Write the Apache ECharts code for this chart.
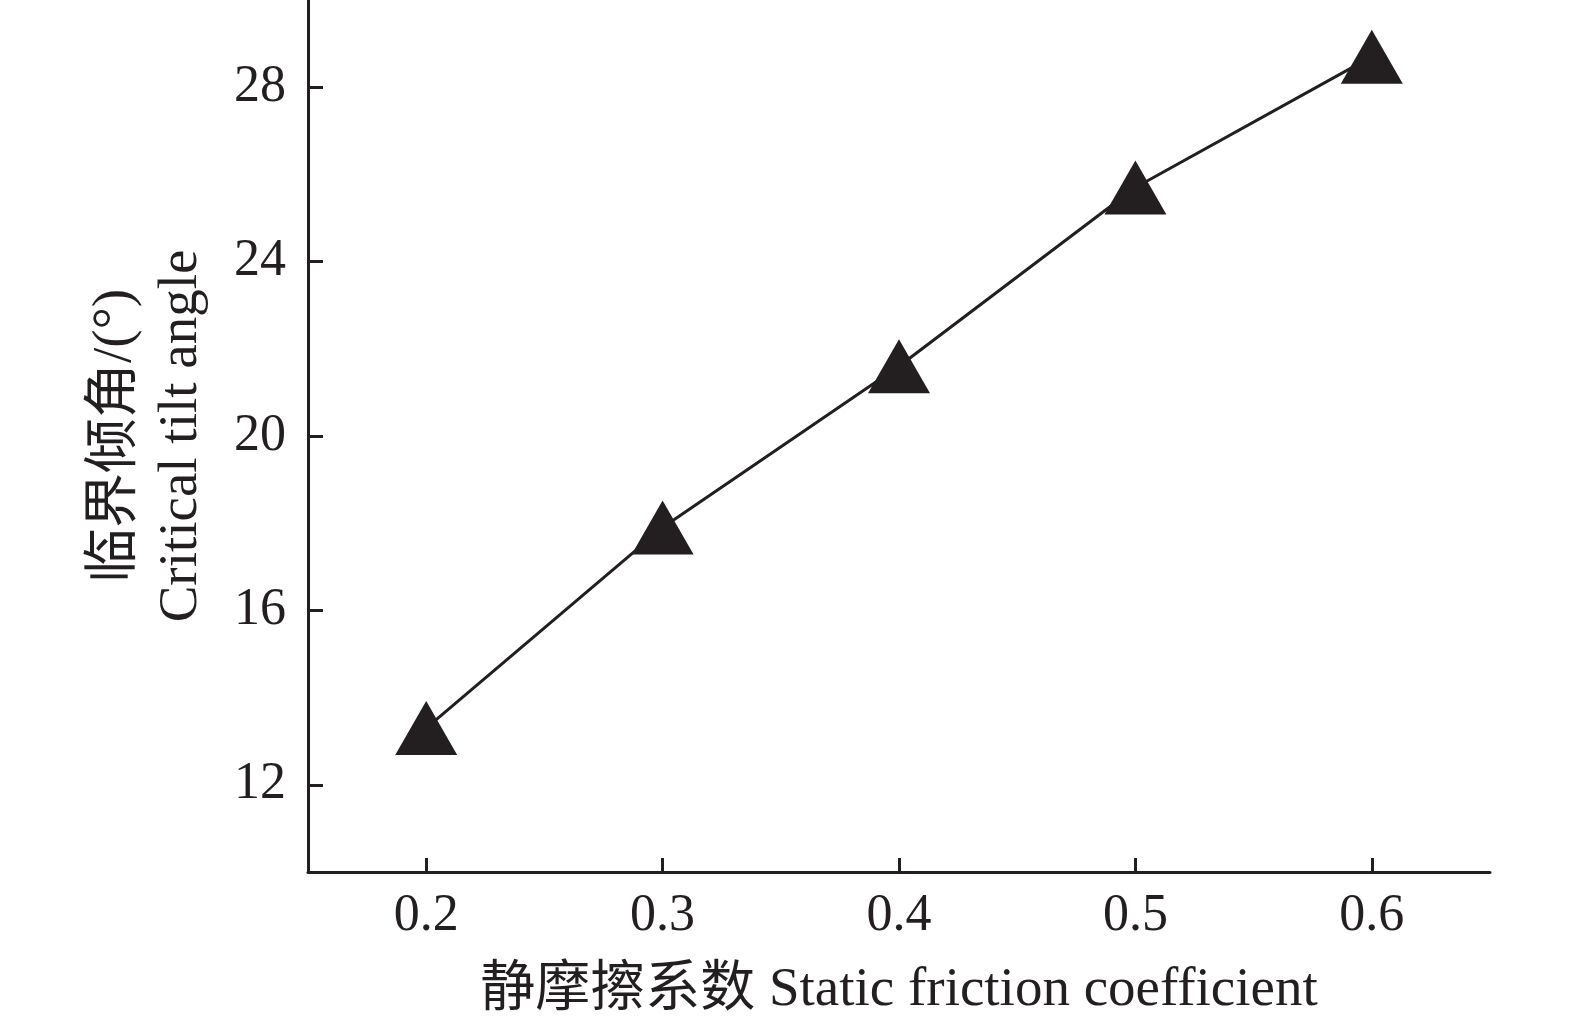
<!DOCTYPE html>
<html>
<head>
<meta charset="utf-8">
<script src="https://cdn.jsdelivr.net/npm/echarts@6/dist/echarts.min.js"></script>
<style>
html,body{margin:0;padding:0;background:#fff;}
#chart{width:1575px;height:1023px;}
</style>
</head>
<body>
<div id="chart"></div>
<script>
const frictionCoef = [0.2, 0.3, 0.4, 0.5, 0.6];
const criticalAngle = [13.3, 17.9, 21.6, 25.7, 28.7];
const xTicks = [0.2, 0.3, 0.4, 0.5, 0.6];
const yTicks = [12, 16, 20, 24, 28];
const xTitle = '静摩擦系数 Static friction coefficient';
const yTitle = '临界倾角/(°)\nCritical tilt angle';

const ink = '#231f20';
const fontFam = '"Liberation Serif", "Times New Roman", "Noto Sans CJK SC", serif';

const chart = echarts.init(document.getElementById('chart'));
chart.setOption({
  backgroundColor: '#fff',
  animation: false,
  grid: {left: 308, right: 85, top: -1, bottom: 140, containLabel: false},
  xAxis: {
    type: 'value',
    min: 0.15, max: 0.65,
    name: xTitle,
    nameLocation: 'middle',
    nameGap: 91,
    nameTextStyle: {fontFamily: fontFam, fontSize: 55, color: ink},
    axisLine: {show: true, onZero: false, lineStyle: {color: ink, width: 3}},
    axisTick: {show: true, inside: true, length: 14, customValues: xTicks, lineStyle: {color: ink, width: 3}},
    axisLabel: {customValues: xTicks, margin: 18, fontFamily: fontFam, fontSize: 52, color: ink,
      formatter: v => v.toFixed(1)},
    splitLine: {show: false}
  },
  yAxis: {
    type: 'value',
    min: 10, max: 30,
    name: yTitle,
    nameLocation: 'middle',
    nameGap: 93,
    nameRotate: 90,
    nameTextStyle: {fontFamily: fontFam, fontSize: 55, color: ink, lineHeight: 66, align: 'center'},
    axisLine: {show: true, onZero: false, lineStyle: {color: ink, width: 3}},
    axisTick: {show: true, inside: true, length: 15, customValues: yTicks, lineStyle: {color: ink, width: 3}},
    axisLabel: {customValues: yTicks, margin: 22, fontFamily: fontFam, fontSize: 52, color: ink},
    splitLine: {show: false}
  },
  series: [{
    type: 'line',
    data: frictionCoef.map((x, i) => [x, criticalAngle[i]]),
    symbol: 'triangle',
    symbolSize: [62, 54],
    itemStyle: {color: ink},
    lineStyle: {color: ink, width: 3},
    z: 3
  }]
});
</script>
</body>
</html>
